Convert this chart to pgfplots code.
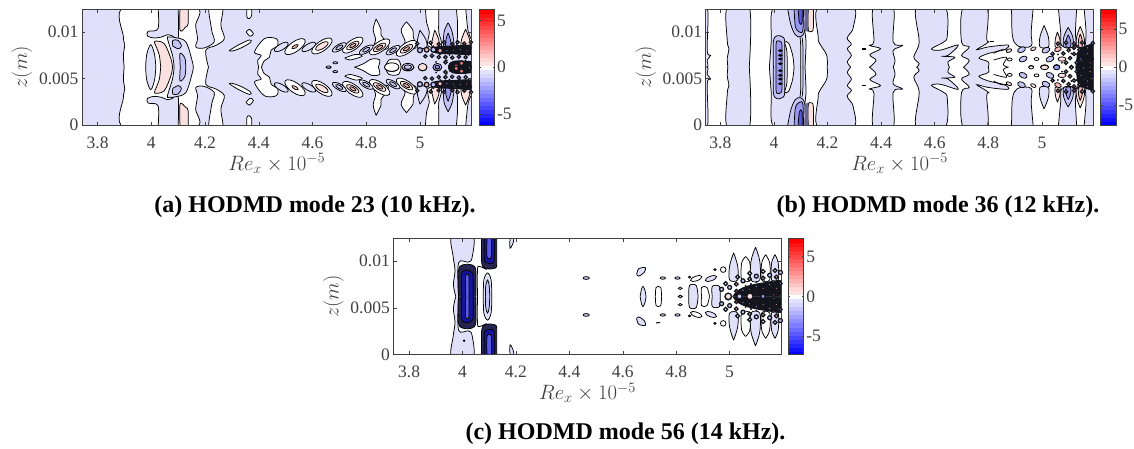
\documentclass[border=0pt]{standalone}
\usepackage{fontspec}
\setmainfont{Liberation Serif}
\usepackage{pgfplots}
\pgfplotsset{compat=1.18}
\definecolor{lav}{HTML}{E0E0FB}
\definecolor{lavb}{HTML}{C4C4F5}
\definecolor{lavc}{HTML}{9A9AF2}
\definecolor{lavd}{HTML}{5A5AE6}
\definecolor{pinka}{HTML}{FBE0E0}
\definecolor{pinkb}{HTML}{F6B8B8}
\definecolor{pinkc}{HTML}{EE8080}
\definecolor{navy}{HTML}{25254F}
\definecolor{ink}{HTML}{14141C}
\definecolor{tk}{HTML}{404040}
\def\lw{0.75pt}
\newcommand\SH[2]{\addplot[smooth,tension=.55,fill=#1,draw=black,line width=\lw] coordinates {#2};
\addplot[smooth,tension=.55,fill=#1,draw=black,line width=\lw,y filter/.expression={12.45-y}] coordinates {#2};}
\newcommand\INK[1]{\addplot[smooth,tension=.55,fill=ink,draw=none] coordinates {#1};
\addplot[smooth,tension=.55,fill=ink,draw=none,y filter/.expression={12.45-y}] coordinates {#1};}
\newcommand\LN[1]{\addplot[smooth,tension=.55,draw=black,line width=\lw] coordinates {#1};
\addplot[smooth,tension=.55,draw=black,line width=\lw,y filter/.expression={12.45-y}] coordinates {#1};}
% colour, size, xscale, rotation, points
\newcommand\LB[5]{\addplot[only marks,mark=*,mark size=#2,mark options={fill=#1,draw=black,line width=\lw,rotate=#4,xscale=#3}] coordinates {#5};
\addplot[only marks,mark=*,mark size=#2,y filter/.expression={12.45-y},mark options={fill=#1,draw=black,line width=\lw,rotate=-#4,xscale=#3}] coordinates {#5};}
% thick-ringed lobes of the densest zone: colour, size, points
\newcommand\RG[3]{\addplot[only marks,mark=*,mark size=#2,mark options={fill=#1,draw=ink,line width=1.25pt}] coordinates {#3};
\addplot[only marks,mark=*,mark size=#2,y filter/.expression={12.45-y},mark options={fill=#1,draw=ink,line width=1.25pt}] coordinates {#3};}
\newcommand\SP[3]{\addplot[only marks,mark=*,mark size=#2,mark options={fill=#1,draw=none}] coordinates {#3};
\addplot[only marks,mark=*,mark size=#2,y filter/.expression={12.45-y},mark options={fill=#1,draw=none}] coordinates {#3};}
\newcommand\cb[3]{\addplot[fill=#1,draw=#1,line width=0.2pt] coordinates {(0,#2)(1,#2)(1,#3)(0,#3)};}
\pgfplotsset{
  panel/.style={scale only axis,anchor=south west,axis on top,
    cycle list={{black,mark=none}},
    xmin=#1,ymin=0,ymax=12.45,
    xtick={3.8,4,4.2,4.4,4.6,4.8,5},xticklabels={3.8,4,4.2,4.4,4.6,4.8,5},
    ytick={0,5,10},yticklabels={0,0.005,0.01},
    tick align=inside,tick style={color=tk,line width=0.5pt},major tick length=3.5pt,
    axis line style={color=tk,line width=0.7pt},
    tick label style={font=\fontsize{17.5}{17.5}\selectfont,color=tk},
    xticklabel style={anchor=base,yshift=-23pt},
    every axis x label/.style={at={(axis description cs:0.5,0)},anchor=base,yshift=-45pt},
    every axis y label/.style={at={(axis description cs:-0.154,0.5)},rotate=90,anchor=center},
    label style={font=\fontsize{19.5}{19.5}\selectfont,color=tk},
    xlabel={$Re_x\times10^{-5}$},ylabel={$z(m)$},
  },
  cbar/.style={scale only axis,anchor=south west,axis on top,
    cycle list={{black,mark=none}},
    width=15.5pt,xmin=0,xmax=1,ymin=-14.5,ymax=14.5,xtick=\empty,
    yticklabel pos=right,
    tick align=inside,tick style={color=tk,line width=0.5pt},major tick length=2pt,
    axis line style={color=tk,line width=0.7pt},
    yticklabels={-5,0,5},
    tick label style={font=\fontsize{17.5}{17.5}\selectfont,color=tk,xshift=-1pt},
  },
}
\newcommand\cbars{%
\cb{blue}{-14.5}{-13.5}\cb{blue!93!white}{-13.5}{-12.5}\cb{blue!86!white}{-12.5}{-11.5}\cb{blue!79!white}{-11.5}{-10.5}\cb{blue!72!white}{-10.5}{-9.5}\cb{blue!65!white}{-9.5}{-8.5}\cb{blue!58!white}{-8.5}{-7.5}\cb{blue!51!white}{-7.5}{-6.5}\cb{blue!44!white}{-6.5}{-5.5}\cb{blue!37!white}{-5.5}{-4.5}\cb{blue!30!white}{-4.5}{-3.5}\cb{blue!23!white}{-3.5}{-2.5}\cb{blue!16!white}{-2.5}{-1.5}\cb{blue!11!white}{-1.5}{-0.5}%
\cb{white}{-0.5}{0.5}%
\cb{red!11!white}{0.5}{1.5}\cb{red!16!white}{1.5}{2.5}\cb{red!23!white}{2.5}{3.5}\cb{red!30!white}{3.5}{4.5}\cb{red!37!white}{4.5}{5.5}\cb{red!44!white}{5.5}{6.5}\cb{red!51!white}{6.5}{7.5}\cb{red!58!white}{7.5}{8.5}\cb{red!65!white}{8.5}{9.5}\cb{red!72!white}{9.5}{10.5}\cb{red!79!white}{10.5}{11.5}\cb{red!86!white}{11.5}{12.5}\cb{red!93!white}{12.5}{13.5}\cb{red}{13.5}{14.5}}
\begin{document}
\begin{tikzpicture}[x=1pt,y=1pt]
\path[use as bounding box] (0,0) rectangle (1134,449);
%%%%%%%%%% PANEL A
\begin{axis}[panel=3.742,xmax=5.192,at={(82pt,323.8pt)},width=389.5pt,height=116pt,axis background/.style={fill=lav}]
\SH{white}{(3.899,6.21)(3.896,7.5)(3.901,8.6)(3.896,9.5)(3.899,12.7)(4.163,12.7)(4.165,10.7)(4.172,9.3)(4.166,8.39)(4.197,8.29)(4.234,8.93)(4.226,10.0)(4.222,10.7)(4.216,12.7)(4.265,12.7)(4.259,10.7)(4.272,9.29)(4.241,8.57)(4.203,8.04)(4.213,6.21)}
\SH{lav}{(4.025,12.7)(4.025,10.36)(3.988,10.07)(3.986,9.57)(4.01,9.36)(4.038,9.46)(4.06,9.71)(4.079,9.57)(4.10,9.29)(4.10,12.7)}
\SH{pinka}{(4.107,12.7)(4.107,10.18)(4.128,10.54)(4.137,10.89)(4.137,12.7)}
\SH{lav}{(3.979,6.21)(3.983,7.6)(3.998,8.64)(4.012,7.6)(4.017,6.21)}
\SH{lav}{(4.156,6.21)(4.153,6.8)(4.129,8.93)(4.09,9.4)(4.066,9.46)(4.06,9.29)(4.079,7.5)(4.085,6.21)}
\SH{pinka}{(4.079,6.21)(4.073,7.14)(4.048,8.75)(4.013,9.0)(4.02,8.3)(4.03,7.5)(4.035,6.21)}
\SH{lavb}{(4.08,8.5)(4.08,9.1)(4.10,9.1)(4.112,8.5)(4.10,8.2)(4.08,8.5)}
\SH{lavb}{(4.128,6.21)(4.125,7.2)(4.107,7.7)(4.108,6.21)}
\SH{white}{(4.355,12.7)(4.356,11.6)(4.365,11.45)(4.374,11.8)(4.373,12.7)}
\SH{white}{(4.353,10.0)(4.365,10.3)(4.38,9.8)(4.368,9.55)(4.353,10.0)}
\SH{white}{(4.29,8.0)(4.32,8.55)(4.365,9.15)(4.37,8.9)(4.335,8.3)(4.30,7.95)(4.29,8.0)}
\SH{white}{(4.40,6.21)(4.396,6.96)(4.409,7.5)(4.384,7.86)(4.421,9.29)(4.465,9.29)(4.471,8.57)(4.446,8.04)(4.44,7.3)(4.42,6.9)(4.41,6.21)}
% outer vertical lobes
\SH{white}{(5.02,12.7)(5.025,11)(5.035,10)(5.03,8.5)(5.08,8.5)(5.07,10)(5.07,11)(5.07,12.7)}
\SH{white}{(5.135,12.7)(5.14,11)(5.14,9.5)(5.14,8.5)(5.2,8.5)(5.18,10)(5.17,12.7)}
\SH{white}{(4.837,11.4)(4.826,10.3)(4.835,9.2)(4.83,8.3)(4.88,8.2)(4.875,8.9)(4.855,9.7)(4.855,10.3)(4.837,11.4)}
\SH{white}{(4.95,11.1)(4.93,10.2)(4.945,9)(4.94,8.3)(4.985,8.3)(4.975,9.5)(4.974,10.2)(4.95,11.1)}
\SH{lav}{(5.0,10.2)(4.99,9)(4.995,8.2)(5.025,8.4)(5.022,9.2)(5.0,10.2)}
\SH{pinka}{(5.055,10.2)(5.045,9)(5.045,8.4)(5.07,8.4)(5.07,9.2)(5.055,10.2)}
\SH{lavb}{(5.105,11)(5.09,10)(5.09,8.4)(5.125,8.4)(5.12,10)(5.105,11)}
\SH{lavc}{(5.105,9.9)(5.097,9.2)(5.097,8.4)(5.117,8.4)(5.113,9.2)(5.105,9.9)}
\SH{pinka}{(5.17,10.3)(5.155,9.2)(5.155,8.4)(5.185,8.4)(5.185,9.2)(5.17,10.3)}
% centre row
\SH{white}{(4.756,6.21)(4.79,6.6)(4.82,7.1)(4.85,7.0)(4.845,6.21)}
\SH{white}{(4.87,6.21)(4.885,7.0)(4.92,7.0)(4.93,6.21)}
\SH{white}{(4.72,7.2)(4.76,7.6)(4.785,7.4)(4.74,7.0)(4.72,7.2)}
\LB{lavb}{1.1}{2.2}{0}{(4.66,6.21)(4.685,6.7)}
% bands: halos
\LB{white}{5}{2.4}{35}{(4.535,8.43)(4.635,8.5)(4.75,8.6)(4.85,8.4)(4.95,8.25)}
\LB{lav}{3}{2.6}{30}{(4.484,8.4)(4.586,8.4)(4.70,8.35)(4.80,8.1)(4.90,8.05)}
\LB{pinka}{2.8}{2.5}{30}{(4.635,8.5)(4.75,8.55)(4.85,8.35)(4.95,8.2)}
\LB{lavb}{1.6}{2.5}{30}{(4.70,8.35)(4.80,8.1)(4.90,8.05)}
\LB{pinkb}{1.4}{2.5}{30}{(4.535,8.43)(4.75,8.55)(4.85,8.35)(4.95,8.2)}
% centre lobes
\LB{white}{4.2}{1.7}{0}{(4.895,6.21)}
\LB{lav}{3.6}{1.7}{0}{(4.955,6.21)}
\LB{lavb}{2.2}{1.7}{0}{(4.955,6.21)}
\LB{pinka}{3.6}{1.2}{0}{(5.01,6.21)}
\LB{lavb}{3.6}{1.2}{0}{(5.065,6.21)}
\LB{lavc}{1.8}{1.2}{0}{(5.065,6.21)}
% dense zones
\INK{(5.04,8.05)(5.06,8.45)(5.12,8.55)(5.2,8.6)(5.2,7.6)(5.12,7.6)(5.06,7.7)(5.04,8.05)}
\INK{(5.105,6.21)(5.11,6.7)(5.14,6.95)(5.2,6.8)(5.2,6.21)}
\RG{white}{1.6}{(4.99,8.75)(5.04,8.85)(5.09,8.9)(5.14,8.9)(5.19,8.9)(5.02,7.4)(5.07,7.3)(5.12,7.25)(5.17,7.3)}
\RG{lavb}{2.5}{(5.0,8.05)(5.05,8.1)}
\RG{pinkb}{2.4}{(5.025,8.1)(5.075,8.0)}
\RG{lavc}{1.7}{(5.1,8.0)(5.15,8.1)(5.045,7.45)(5.095,7.3)(5.145,7.35)}
\RG{pinkc}{1.6}{(5.125,8.05)(5.175,8.0)(5.07,8.7)(5.12,8.7)(5.165,8.75)}
\RG{pinkc}{2.2}{(5.135,6.35)(5.155,6.65)}
\RG{lavc}{1.7}{(5.095,6.75)(5.185,6.3)}
\SP{white}{0.7}{(5.075,7.6)(5.11,7.55)(5.15,7.6)(5.18,7.55)(5.13,8.35)(5.10,6.95)(5.17,6.9)(5.06,6.8)}
\SP{lavd}{1}{(5.115,7.85)(5.05,8.45)(5.14,8.4)(5.08,7.75)(5.19,8.3)}
\end{axis}
\begin{axis}[cbar,at={(479pt,323.8pt)},height=116pt,ytick={-11.7,0,11.7}]
\cbars
\end{axis}
%%%%%%%%%% PANEL B
\begin{axis}[panel=3.745,xmax=5.193,at={(705.6pt,323.8pt)},width=388pt,height=116pt]
\SH{lav}{(3.70,6.21)(3.751,6.21)(3.751,7.0)(3.764,7.5)(3.751,8.0)(3.751,12.7)(3.70,12.7)}
\SH{lav}{(3.828,6.21)(3.826,7.2)(3.832,8.2)(3.826,9)(3.826,12.7)(3.908,12.7)(3.908,6.21)}
\SH{lav}{(3.983,6.21)(3.99,9)(4.0,12.7)(4.116,12.7)(4.116,10)(4.12,9)(4.116,6.21)}
\SH{lav}{(4.199,6.21)(4.197,7.5)(4.17,8.8)(4.165,9.5)(4.165,12.7)(4.296,12.7)(4.296,10.5)(4.283,9.8)(4.273,9.3)(4.289,8.7)(4.274,8.2)(4.289,7.5)(4.274,6.8)(4.287,6.21)}
\SH{pinka}{(4.128,12.7)(4.128,10.3)(4.138,10.05)(4.147,10.4)(4.147,12.7)}
\SH{lavb}{(4.05,12.7)(4.063,10.8)(4.08,9.7)(4.10,9.5)(4.115,10.2)(4.116,12.7)}
\SH{lavc}{(4.075,12.7)(4.08,10.6)(4.095,10.0)(4.108,10.2)(4.11,12.7)}
\SH{lavd}{(4.09,12.7)(4.095,11)(4.105,11)(4.105,12.7)}
\addplot[fill=gray!80!blue,draw=none] coordinates {(4.116,12.7)(4.128,12.7)(4.128,10)(4.116,10.2)};
\addplot[fill=gray!80!blue,draw=none] coordinates {(4.116,-.2)(4.128,-.2)(4.128,2.45)(4.116,2.25)};
\SH{lavb}{(3.998,6.21)(3.998,9.0)(4.012,9.6)(4.03,9.5)(4.04,9.0)(4.04,6.21)}
\SH{lavc}{(4.008,6.21)(4.008,8.7)(4.015,9.05)(4.026,8.95)(4.03,8.5)(4.03,6.21)}
\LB{black}{1.0}{1.8}{0}{(4.024,6.6)(4.024,7.1)(4.024,7.5)(4.024,8.0)}
\SH{white}{(4.075,6.21)(4.07,7.5)(4.055,8.8)(4.04,8.9)(4.048,8.0)(4.05,6.21)}
\LN{(4.10,6.21)(4.1,8.5)(4.097,9.5)}
\LN{(4.108,6.21)(4.108,8.5)(4.105,9.4)}
\SH{lav}{(4.356,6.21)(4.381,6.96)(4.358,7.57)(4.398,8.21)(4.356,8.57)(4.373,9.0)(4.371,12.7)(4.445,12.7)(4.445,8.93)(4.48,8.57)(4.445,8.04)(4.452,6.96)(4.445,6.21)}
\SH{lav}{(4.532,6.21)(4.542,6.6)(4.522,7.32)(4.542,8.93)(4.532,12.7)(4.638,12.7)(4.647,9.6)(4.632,8.9)(4.588,8.2)(4.62,8.05)(4.688,8.6)(4.65,7.5)(4.625,7.4)(4.675,7.3)(4.65,6.8)(4.655,6.21)}
\SH{lav}{(4.707,6.21)(4.729,6.96)(4.70,7.5)(4.729,8.39)(4.70,8.93)(4.707,12.7)(4.794,12.7)(4.794,9.3)(4.80,8.9)(4.756,8.1)(4.80,8.4)(4.874,8.6)(4.86,8.1)(4.80,7.7)(4.765,7.2)(4.80,6.8)(4.80,6.21)}
\addplot[draw=black,line width=1.6pt] coordinates {(4.327,8.2)(4.345,8.2)};
\addplot[draw=black,line width=1.6pt] coordinates {(4.327,4.25)(4.345,4.25)};
\addplot[draw=black,line width=1.2pt] coordinates {(4.805,9.0)(4.82,9.0)};
\addplot[draw=black,line width=1.2pt] coordinates {(4.918,9.0)(4.932,9.0)};
\LN{(4.82,7)(4.868,7.3)(4.856,6.5)(4.875,6.21)}
\LN{(4.82,7.7)(4.85,8.1)(4.885,8.0)}
\SH{lav}{(4.887,12.7)(4.89,9.6)(4.91,8.5)(4.96,8.5)(4.96,10)(4.968,12.7)}
\SH{lav}{(5.061,12.7)(5.07,10)(5.075,8.5)(5.125,8.5)(5.125,10)(5.13,12.7)}
\SH{lav}{(5.157,12.7)(5.165,10)(5.165,8.5)(5.2,8.5)(5.2,12.7)}
\SH{lav}{(5.008,10.7)(4.993,9.5)(4.993,8.4)(5.024,8.4)(5.024,9.5)(5.008,10.7)}
\SH{pinka}{(5.058,10.0)(5.05,9.2)(5.05,8.4)(5.067,8.4)(5.067,9.2)(5.058,10.0)}
\SH{lavb}{(5.098,10.5)(5.082,9.5)(5.082,8.4)(5.115,8.4)(5.115,9.5)(5.098,10.5)}
\SH{lavc}{(5.098,9.7)(5.09,9.1)(5.09,8.4)(5.107,8.4)(5.107,9.1)(5.098,9.7)}
\SH{pinka}{(5.143,10.6)(5.13,9.5)(5.13,8.4)(5.157,8.4)(5.157,9.5)(5.143,10.6)}
\SH{pinkb}{(5.143,9.8)(5.137,9.2)(5.137,8.4)(5.15,8.4)(5.15,9.2)(5.143,9.8)}
% lattice
\LB{pinka}{1.6}{1.8}{25}{(4.877,8.0)(4.968,8.2)}
\LB{lavb}{2.6}{1.6}{25}{(4.924,8.1)(5.015,8.05)(4.93,7.1)(5.03,7.1)}
\LB{white}{1.5}{1.6}{0}{(4.88,7.05)(4.98,7.1)(4.96,6.25)}
\LB{pinka}{2.2}{1.8}{0}{(5.01,6.25)(5.075,7.1)}
\LB{pinkb}{2.2}{1.6}{25}{(5.06,8.15)}
\LB{lavc}{2.4}{1.3}{0}{(5.055,6.25)}
\INK{(5.125,6.21)(5.13,7.4)(5.135,8.0)(5.16,8.5)(5.2,8.6)(5.2,6.21)}
\RG{lavb}{1.7}{(5.09,8.85)(5.12,7.65)(5.09,6.7)(5.15,8.85)(5.19,8.8)}
\RG{pinkb}{1.7}{(5.12,8.75)(5.1,8.05)(5.105,7.2)(5.11,6.25)(5.06,8.75)}
\RG{lavc}{1.7}{(5.14,8.1)(5.145,7.1)(5.13,6.7)(5.08,7.7)(5.04,7.65)}
\RG{pinkc}{1.7}{(5.17,7.7)(5.18,6.7)(5.155,6.3)(5.12,8.3)(5.17,8.3)}
\SP{white}{0.7}{(5.11,7.7)(5.16,7.5)(5.18,6.3)(5.15,6.9)(5.135,6.3)(5.13,7.6)(5.075,6.7)(5.06,7.6)}
\SP{lavd}{1}{(5.19,7.1)(5.165,7.9)(5.135,8.5)(5.14,6.45)}
\end{axis}
\begin{axis}[cbar,at={(1100.6pt,323.8pt)},height=116pt,ytick={-9.54,0,9.54}]
\cbars
\end{axis}
%%%%%%%%%% PANEL C
\begin{axis}[panel=3.741,xmax=5.195,at={(393.3pt,94.3pt)},width=388.4pt,height=116.4pt]
\SH{lav}{(3.975,6.21)(3.966,7.5)(3.972,9)(3.965,10.5)(3.96,12.7)(4.039,12.7)(4.036,10.4)(4.022,9.9)(3.985,9.8)(3.985,6.21)}
\SH{navy}{(3.985,6.21)(3.985,9.0)(4.0,9.6)(4.035,9.6)(4.05,9.0)(4.05,6.21)}
\SH{blue!45!navy}{(3.997,6.21)(3.997,8.6)(4.01,9.0)(4.03,8.9)(4.04,8.4)(4.04,6.21)}
\SH{lavd}{(4.012,6.21)(4.012,8.4)(4.024,8.4)(4.024,6.21)}
\SH{navy}{(4.072,12.7)(4.072,9.8)(4.09,9.2)(4.125,9.3)(4.128,10)(4.128,12.7)}
\SH{blue!45!navy}{(4.082,12.7)(4.082,10.2)(4.095,9.8)(4.118,10)(4.12,12.7)}
\SH{lavd}{(4.092,12.7)(4.092,10.5)(4.108,10.5)(4.108,12.7)}
\SH{lav}{(4.078,6.21)(4.08,8)(4.094,8.75)(4.107,8)(4.11,6.21)}
\SH{lavb}{(4.086,6.21)(4.087,7.4)(4.094,8)(4.1,7.4)(4.102,6.21)}
\LN{(4.056,6.21)(4.056,9.0)(4.062,9.45)(4.09,9.1)}
\SH{lav}{(4.178,12.7)(4.178,11.4)(4.19,12)(4.193,12.7)}
\addplot[only marks,mark=*,mark size=1pt,mark options={fill=black,draw=none}] coordinates {(4.006,1.5)};
\LB{lavb}{1.4}{2.2}{0}{(4.463,8.2)}
\SH{lav}{(4.652,8.6)(4.66,9.2)(4.685,9.3)(4.68,8.8)(4.66,8.4)(4.652,8.6)}
\SH{lav}{(4.665,6.21)(4.67,7.0)(4.676,7.3)(4.684,6.8)(4.687,6.21)}
\LB{lavb}{1.2}{2.2}{0}{(4.75,8.2)(4.805,8.2)}
\addplot[draw=black,line width=1pt] coordinates {(4.725,3.4)(4.74,3.45)};
\SH{white}{(4.722,6.21)(4.725,7.2)(4.742,7.2)(4.745,6.21)}
\LB{white}{1.2}{1.6}{0}{(4.815,7.1)(4.815,6.21)}
\LB{lavb}{1}{1.2}{0}{(4.85,8.3)(4.945,9.1)}
\SH{lav}{(4.847,6.21)(4.85,7.4)(4.875,7.4)(4.882,6.21)}
\LB{white}{2.3}{2.6}{20}{(4.875,8.15)}
\LB{lav}{2.3}{2.6}{20}{(4.93,8.15)}
\LB{white}{2.8}{1}{0}{(4.976,9.1)}
\SH{white}{(4.895,6.21)(4.895,7.2)(4.915,7.2)(4.925,6.21)}
\SH{lav}{(5.015,10.9)(5.0,9.5)(5.0,8.0)(5.03,8.0)(5.03,9.5)(5.015,10.9)}
\SH{white}{(5.06,10.5)(5.045,9.8)(5.045,8.0)(5.076,8.0)(5.076,9.8)(5.06,10.5)}
\SH{lav}{(5.097,11.5)(5.08,10)(5.08,8.0)(5.113,8.0)(5.113,10)(5.097,11.5)}
\SH{white}{(5.135,10.7)(5.12,9.8)(5.12,8.0)(5.15,8.0)(5.15,9.8)(5.135,10.7)}
\SH{lav}{(5.17,10.7)(5.157,9.8)(5.157,8.0)(5.182,8.0)(5.182,9.8)(5.17,10.7)}
\SH{lav}{(4.935,6.21)(4.935,7.3)(4.962,7.3)(4.965,6.21)}
\INK{(5.01,6.21)(5.03,6.9)(5.07,7.4)(5.13,7.75)(5.2,7.9)(5.2,6.21)}
\RG{white}{1.9}{(4.985,7.6)(5.03,8.3)(5.075,8.7)(5.125,8.9)(5.17,9.0)}
\RG{lavb}{2}{(5.0,7.2)(5.05,7.9)(5.1,8.4)(5.15,8.5)(5.19,8.8)(4.97,7.0)}
\RG{pinkb}{1.9}{(5.025,7.55)(5.075,8.1)(5.125,8.2)(5.175,8.3)}
\RG{lavc}{1.8}{(5.05,6.9)(5.1,7.3)(5.15,7.5)(5.19,7.6)}
\RG{pinkc}{1.7}{(5.025,6.8)(5.075,7.0)(5.125,7.1)(5.175,7.1)}
\RG{pinka}{3.2}{(4.995,6.21)(5.076,6.21)}
\RG{lavb}{2.6}{(5.037,6.21)}
\RG{lavc}{2.2}{(5.125,6.21)}
\RG{pinkc}{1.7}{(5.165,6.4)}
\SP{white}{0.8}{(5.13,7.85)(5.1,7.75)(5.165,7.85)(5.06,7.35)(5.15,6.8)(5.1,6.8)(5.19,6.35)}
\SP{lavd}{1}{(5.14,7.3)(5.08,7.55)(5.18,6.75)}
\end{axis}
\begin{axis}[cbar,at={(788.3pt,94.3pt)},height=116.4pt,ytick={-9.93,0,9.93}]
\cbars
\end{axis}
\node[anchor=base,font=\fontsize{24}{24}\selectfont\bfseries] at (315,236.3) {(a) HODMD mode 23 (10 kHz).};
\node[anchor=base,font=\fontsize{24}{24}\selectfont\bfseries] at (938,236.3) {(b) HODMD mode 36 (12 kHz).};
\node[anchor=base,font=\fontsize{24}{24}\selectfont\bfseries] at (625.5,9) {(c) HODMD mode 56 (14 kHz).};
\end{tikzpicture}
\end{document}
